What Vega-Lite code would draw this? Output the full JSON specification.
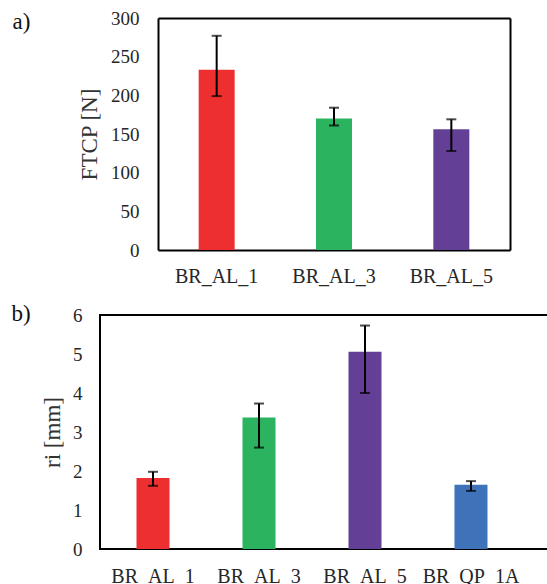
{
  "$schema": "https://vega.github.io/schema/vega-lite/v6.json",
  "padding": {"left": 10, "top": 9, "right": 0, "bottom": 0},
  "background": "white",
  "spacing": 16,
  "config": {
    "view": {"stroke": "black", "strokeWidth": 2},
    "axis": {"labelFont": "Liberation Serif", "titleFont": "Liberation Serif", "labelColor": "#262626", "titleColor": "#333333", "ticks": false, "tickSize": 0, "domain": false, "domainColor": "black", "domainWidth": 2, "grid": false, "labelFontSize": 19, "titleFontSize": 23, "titleFontWeight": "normal", "labelOverlap": false},
    "title": {"font": "Liberation Serif", "fontSize": 23, "fontWeight": "normal", "color": "#111111"}
  },
  "vconcat": [
    {
      "width": 410, "height": 232,
      "view": {"stroke": null},
      "title": {"text": "a)", "anchor": "start", "frame": "bounds", "orient": "top", "offset": -43, "dx": -66, "baseline": "alphabetic"},
      "data": {"values": [
        {"s": "BR_AL_1", "v": 233, "lo": 199, "hi": 277},
        {"s": "BR_AL_3", "v": 170, "lo": 161, "hi": 184},
        {"s": "BR_AL_5", "v": 156, "lo": 128, "hi": 169}
      ]},
      "layer": [
        {"mark": {"type": "bar", "size": 36},
         "encoding": {
           "x": {"field": "s", "type": "nominal", "sort": null, "scale": {"paddingInner": 0, "paddingOuter": 0, "range": [58, 410]}, "axis": {"title": null, "labelAngle": 0, "labelFontSize": 20, "labelBaseline": "alphabetic", "labelPadding": 32, "domain": true}},
           "y": {"field": "v", "type": "quantitative", "title": "FTCP [N]", "scale": {"domain": [0, 300], "nice": false}, "axis": {"values": [0, 50, 100, 150, 200, 250, 300], "tickCount": 7, "labelPadding": 19, "titlePadding": 9, "offset": -58, "domain": true}},
           "color": {"field": "s", "type": "nominal", "scale": {"domain": ["BR_AL_1", "BR_AL_3", "BR_AL_5"], "range": ["#EE2F2F", "#2BB360", "#634096"]}, "legend": null}
         }},
        {"mark": {"type": "rule", "strokeWidth": 2, "color": "black"},
         "encoding": {
           "x": {"field": "s", "type": "nominal", "sort": null, "axis": {"orient": "top", "title": null, "labels": false, "domain": true}},
           "y": {"field": "lo", "type": "quantitative", "axis": {"orient": "right", "title": null, "labels": false, "domain": true}},
           "y2": {"field": "hi"}}},
        {"mark": {"type": "tick", "size": 10, "thickness": 2, "color": "black"},
         "encoding": {
           "x": {"field": "s", "type": "nominal", "sort": null, "axis": null},
           "y": {"field": "lo", "type": "quantitative", "axis": null}}},
        {"mark": {"type": "tick", "size": 10, "thickness": 2, "color": "black"},
         "encoding": {
           "x": {"field": "s", "type": "nominal", "sort": null, "axis": null},
           "y": {"field": "hi", "type": "quantitative", "axis": null}}}
      ],
      "resolve": {"axis": {"x": "independent", "y": "independent"}}
    },
    {
      "width": 449, "height": 234,
      "title": {"text": "b)", "anchor": "start", "frame": "bounds", "orient": "top", "offset": 0, "dy": 38, "dx": -30, "baseline": "alphabetic"},
      "data": {"values": [
        {"s": "BR_AL_1", "v": 1.82, "lo": 1.62, "hi": 1.98},
        {"s": "BR_AL_3", "v": 3.37, "lo": 2.60, "hi": 3.73},
        {"s": "BR_AL_5", "v": 5.06, "lo": 4.00, "hi": 5.73},
        {"s": "BR_QP_1A", "v": 1.65, "lo": 1.49, "hi": 1.74}
      ]},
      "encoding": {
        "x": {"field": "s", "type": "nominal", "sort": null, "scale": {"paddingInner": 0, "paddingOuter": 0.118, "align": 0}, "axis": {"title": null, "labelAngle": 0, "labelFontSize": 20, "labelBaseline": "alphabetic", "labelPadding": 33}},
        "y": {"field": "v", "type": "quantitative", "title": "ri [mm]", "scale": {"domain": [0, 6], "nice": false}, "axis": {"values": [0, 1, 2, 3, 4, 5, 6], "tickCount": 7, "labelPadding": 18, "titlePadding": 8}}
      },
      "layer": [
        {"mark": {"type": "bar", "size": 33},
         "encoding": {
           "color": {"field": "s", "type": "nominal", "scale": {"domain": ["BR_AL_1", "BR_AL_3", "BR_AL_5", "BR_QP_1A"], "range": ["#EE2F2F", "#2BB360", "#634096", "#3E72B9"]}, "legend": null}
         }},
        {"mark": {"type": "rule", "strokeWidth": 2, "color": "black"},
         "encoding": {"y": {"field": "lo", "type": "quantitative"}, "y2": {"field": "hi"}}},
        {"mark": {"type": "tick", "size": 10, "thickness": 2, "color": "black"},
         "encoding": {"y": {"field": "lo", "type": "quantitative"}}},
        {"mark": {"type": "tick", "size": 10, "thickness": 2, "color": "black"},
         "encoding": {"y": {"field": "hi", "type": "quantitative"}}}
      ]
    }
  ],
  "resolve": {"scale": {"color": "independent"}}
}
